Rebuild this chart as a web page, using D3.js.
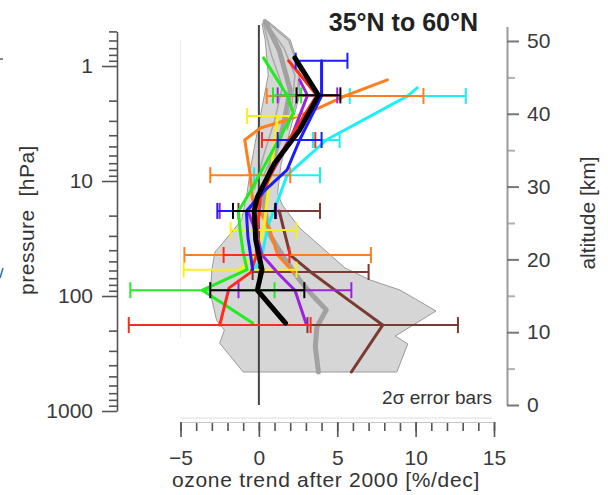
<!DOCTYPE html>
<html>
<head>
<meta charset="utf-8">
<script src="https://cdn.jsdelivr.net/npm/d3@7"></script>
<style>
  body { margin: 0; background: #fff; }
  text { font-family: "Liberation Sans", Arial, sans-serif; fill: #333; }
</style>
</head>
<body>
<div id="chart"></div>
<script>
// profiles: [pressure hPa, trend %/dec]
const black = [[0.85, 2.3], [1.8, 3.8], [3.6, 2.6], [7.0, 1.0], [13.8, -0.1], [18.2, -0.3], [32.6, -0.2], [59, 0.2], [89, -0.1], [172, 1.7]];
const green = [[0.85, 0.3], [1.8, 1.8], [2.56, 2.2], [12.7, -0.6], [18.2, -1.3], [26.7, -1.2], [42, -1.0], [59, -0.75], [89, -3.6], [172, -0.4]];
const purple = [[1.32, 2.6], [1.8, 3.1], [4.4, 2.0], [12, 0.2], [18.2, -0.7], [30, -0.1], [44, 0.2], [65, 1.3], [89, 2.3], [172, 3.0]];
const blue = [[0.9, 4.0], [1.82, 4.0], [4.4, 2.6], [8.0, 1.8], [12.0, 0.4], [18.2, -0.8], [30.7, -0.7], [42, -0.55], [59, -0.4]];
const red = [[0.9, 1.9], [1.8, 3.7], [4.4, 1.9], [8.0, 0.9], [14, 0.1], [27, -0.1], [44, -0.15], [62, -0.5], [85, -1.9], [179, -2.5]];
const orange = [[1.32, 8.2], [1.82, 5.5], [2.32, 3.8], [2.95, 1.8], [3.46, 0.1], [4.4, -0.9], [8.9, -0.55], [14.6, -0.4], [19.8, 0.2], [26.7, 0.7], [44, 1.2], [62, 2.2]];
const cyan = [[1.55, 10.1], [1.82, 9.5], [4.4, 4.3], [8.9, 1.8], [15.5, 1.15], [24, 0.6], [44, 0.2], [59, -0.25]];
const yellow = [[2.72, 1.2], [8, 0.8], [13.8, 0.55], [26.7, 0.3], [42, -0.1], [59, -1.2]];
const brown = [[18.2, 1.3], [26.7, 1.6], [44, 2.0], [61.8, 3.3], [108, 5.7], [179, 7.9], [458, 5.9]];

// 2 sigma error bars: [pressure, trend, half width]
const blackErr = [[1.8, 3.8, 1.4], [18.2, -0.3, 1.35], [89, -0.1, 3.0]];
const greenErr = [[1.8, 1.8, 0.9], [89, -3.6, 4.6]];
const purpleErr = [[1.8, 3.1, 1.9], [18.2, -0.7, 1.8], [89, 2.3, 3.6]];
const blueErr = [[0.9, 4.0, 1.65], [4.4, 2.6, 1.4], [18.2, -0.8, 1.85]];
const redErr = [[4.4, 1.9, 1.7], [44, -0.15, 2.1], [179, -2.5, 5.8]];
const orangeErr = [[1.82, 5.5, 5.0], [8.9, -0.55, 2.55], [44, 1.2, 5.95]];
const cyanErr = [[1.82, 9.5, 3.7], [4.4, 4.3, 0.85], [8.9, 1.8, 2.1]];
const yellowErr = [[2.72, 1.2, 1.95], [26.7, 0.3, 2.1], [59, -1.2, 3.6]];
const brownErr = [[18.2, 1.3, 2.6], [61.8, 3.3, 3.7], [179, 7.9, 4.8]];

// model envelope (grey) and model lines
const envRight = [[0.41, 0.6], [0.59, 2.0], [1.08, 2.6], [1.79, 2.6], [3.6, 2.0], [7.3, 1.4], [12.7, 1.2], [16.2, 1.5], [25.6, 2.6], [39.8, 4.2], [57.1, 5.5], [72.6, 7.1], [88.7, 9.0], [135, 11.3], [223, 8.7], [261, 9.5], [458, 8.8]];
const envLeft = [[0.43, 0.2], [0.59, 0.4], [1.2, 0.6], [4.4, -0.2], [7.3, -0.5], [12.7, -0.75], [21.8, -1.1], [34.6, -2.3], [41.4, -2.8], [59.4, -3.0], [94, -3.1], [162, -2.7], [198, -2.2], [257, -2.5], [458, -1.0]];
const grayMean = [[0.41, 0.4], [0.73, 1.3], [1.62, 2.0], [3.6, 1.5], [8, 0.7], [16.2, 0.3], [29.5, 0.7], [48.6, 1.7], [72.6, 2.6], [98, 3.4], [132, 4.3], [186, 3.7], [277, 3.6], [458, 3.8]];
const grayLineA = [[0.41, 0.4], [0.7, 1.6], [1.2, 2.3], [2.2, 2.1], [4.4, 1.3], [9, 0.3]];
const grayLineB = [[0.43, 0.3], [0.8, 0.8], [1.5, 1.5], [3, 1.0], [6, 0.3], [12, -0.3]];
const grayLineC = [[0.41, 0.5], [0.6, 1.9], [1.1, 2.6], [2, 2.4], [3.6, 1.8]];

const pressureTicks = [1, 10, 100, 1000];
const pressureMinor = [0.5, 0.6, 0.7, 0.8, 0.9, 2, 3, 4, 5, 6, 7, 8, 9, 20, 30, 40, 50, 60, 70, 80, 90, 200, 300, 400, 500, 600, 700, 800, 900];
const altTicks = [0, 10, 20, 30, 40, 50];
const altMinor = [5, 15, 25, 35, 45];
const trendTicks = [-5, 0, 5, 10, 15];
const trendMinor = d3.range(-5, 16);

const WIDTH = 608, HEIGHT = 495;

let svg = d3.select("#chart")
    .append("svg")
    .attr("width", WIDTH)
    .attr("height", HEIGHT);

let x = d3.scaleLinear().domain([-5, 15]).range([180.5, 494]);
let yP = d3.scaleLog().domain([0.5, 1000]).range([31.4, 411]);
let yAlt = d3.scaleLinear().domain([0, 52]).range([405, 26.4]);

let line = d3.line()
    .x(d => x(d[1]))
    .y(d => yP(d[0]));

// faint frame bits
svg.append("line")
    .attr("x1", x(-5)).attr("x2", x(-5))
    .attr("y1", 40).attr("y2", 338)
    .style("stroke", "#ececec");
svg.append("line")
    .attr("x1", x(-5)).attr("x2", x(14.9))
    .attr("y1", 418).attr("y2", 418)
    .style("stroke", "#dcdcdc");

// stray marks at left edge
svg.append("line").attr("x1", 0).attr("x2", 3).attr("y1", 59).attr("y2", 59)
    .style("stroke", "#333").style("stroke-width", 1.2);
svg.append("line").attr("x1", 3).attr("x2", 0).attr("y1", 268).attr("y2", 278)
    .style("stroke", "#2a6ebb").style("stroke-width", 1.5);

// grey envelope
svg.append("path")
    .attr("d", line(envRight.concat(envLeft.slice().reverse())) + "Z")
    .style("fill", "#d6d6d6")
    .style("stroke", "#9a9a9a")
    .style("stroke-width", 1);

[grayLineA, grayLineB, grayLineC].forEach(function (g) {
    svg.append("path")
        .attr("d", line(g))
        .style("fill", "none")
        .style("stroke", "#a8a8a8")
        .style("stroke-width", 1.5);
});

svg.append("path")
    .attr("d", line(grayMean))
    .style("fill", "none")
    .style("stroke", "#a2a2a2")
    .style("stroke-width", 5)
    .style("stroke-linejoin", "round")
    .style("stroke-linecap", "round");

// zero line
svg.append("line")
    .attr("x1", x(0)).attr("x2", x(0))
    .attr("y1", 25).attr("y2", 405)
    .style("stroke", "#444")
    .style("stroke-width", 2);

let seriesList = [
    {data: brown, err: brownErr, color: "#7b3a32", w: 3},
    {data: cyan, err: cyanErr, color: "#1cf0f4", w: 3},
    {data: orange, err: orangeErr, color: "#ff7f1e", w: 3},
    {data: yellow, err: yellowErr, color: "#f8f01c", w: 3},
    {data: purple, err: purpleErr, color: "#9c22e0", w: 3},
    {data: green, err: greenErr, color: "#20ec20", w: 3},
    {data: red, err: redErr, color: "#ff2b1c", w: 3},
    {data: blue, err: blueErr, color: "#1c1cff", w: 3},
    {data: black, err: blackErr, color: "#000", w: 5}
];

seriesList.forEach(function (s) {
    let g = svg.append("g");
    g.append("path")
        .attr("d", line(s.data))
        .style("fill", "none")
        .style("stroke", s.color)
        .style("stroke-width", s.w)
        .style("stroke-linejoin", "round")
        .style("stroke-linecap", "round");

    let bars = g.selectAll(".bar").data(s.err).enter().append("g").attr("class", "bar");
    bars.append("line")
        .attr("x1", d => x(d[1] - d[2]))
        .attr("x2", d => x(d[1] + d[2]))
        .attr("y1", d => yP(d[0]))
        .attr("y2", d => yP(d[0]));
    bars.append("line")
        .attr("x1", d => x(d[1] - d[2]))
        .attr("x2", d => x(d[1] - d[2]))
        .attr("y1", d => yP(d[0]) - 8)
        .attr("y2", d => yP(d[0]) + 8);
    bars.append("line")
        .attr("x1", d => x(d[1] + d[2]))
        .attr("x2", d => x(d[1] + d[2]))
        .attr("y1", d => yP(d[0]) - 8)
        .attr("y2", d => yP(d[0]) + 8);
    bars.selectAll("line")
        .style("stroke", s.color)
        .style("stroke-width", 2);
});

// left pressure axis
let leftMinor = svg.append("g")
    .attr("transform", "translate(117,0)")
    .call(d3.axisLeft(yP).tickValues(pressureMinor).tickFormat("").tickSize(8));
leftMinor.select(".domain").remove();
let leftAxis = svg.append("g")
    .attr("transform", "translate(117,0)")
    .call(d3.axisLeft(yP).tickValues(pressureTicks).tickFormat(d3.format("d")).tickSize(15).tickSizeOuter(0).tickPadding(9));

// right altitude axis
let rightMinor = svg.append("g")
    .attr("transform", "translate(507,0)")
    .call(d3.axisRight(yAlt).tickValues(altMinor).tickFormat("").tickSize(8));
rightMinor.select(".domain").remove();
rightMinor.selectAll(".tick line").style("stroke", "#b0b0b0").style("stroke-width", 2);
let rightAxis = svg.append("g")
    .attr("transform", "translate(507,0)")
    .call(d3.axisRight(yAlt).tickValues(altTicks).tickSize(12).tickSizeOuter(0).tickPadding(8));
rightAxis.select(".domain").style("stroke", "#9a9a9a").style("stroke-width", 2);
rightAxis.selectAll(".tick line").style("stroke", "#777").style("stroke-width", 2);

// bottom trend axis
let bottomMinor = svg.append("g")
    .attr("transform", "translate(0,422)")
    .call(d3.axisBottom(x).tickValues(trendMinor).tickFormat("").tickSize(9));
bottomMinor.select(".domain").remove();
let bottomAxis = svg.append("g")
    .attr("transform", "translate(0,422)")
    .call(d3.axisBottom(x).tickValues(trendTicks).tickSize(15).tickSizeOuter(0).tickPadding(13));
bottomAxis.select(".domain").style("stroke", "#c4c4c4");

[leftMinor, leftAxis, bottomMinor, bottomAxis].forEach(function (a) {
    a.selectAll(".tick line").style("stroke", "#555").style("stroke-width", 1.6);
});
leftAxis.select(".domain").style("stroke", "#555").style("stroke-width", 1.6);

svg.selectAll(".tick text")
    .style("font-size", "21px")
    .style("font-family", "'Liberation Sans', Arial, sans-serif")
    .style("fill", "#3a3a3a");

// titles and labels
svg.append("text")
    .attr("x", 478).attr("y", 31)
    .style("text-anchor", "end")
    .style("font-size", "25px")
    .style("font-weight", "bold")
    .style("fill", "#222")
    .text("35°N to 60°N");

svg.append("text")
    .attr("x", 492).attr("y", 404)
    .style("text-anchor", "end")
    .style("font-size", "19px")
    .text("2σ error bars");

svg.append("text")
    .attr("x", 326).attr("y", 487)
    .style("text-anchor", "middle")
    .style("font-size", "21px")
    .style("letter-spacing", "0.7px")
    .text("ozone trend after 2000 [%/dec]");

svg.append("text")
    .attr("transform", "translate(34,220) rotate(-90)")
    .style("text-anchor", "middle")
    .style("font-size", "21px")
    .style("letter-spacing", "0.5px")
    .style("white-space", "pre")
    .text("pressure  [hPa]");

svg.append("text")
    .attr("transform", "translate(595,213) rotate(-90)")
    .style("text-anchor", "middle")
    .style("font-size", "21px")
    .text("altitude [km]");
</script>
</body>
</html>
